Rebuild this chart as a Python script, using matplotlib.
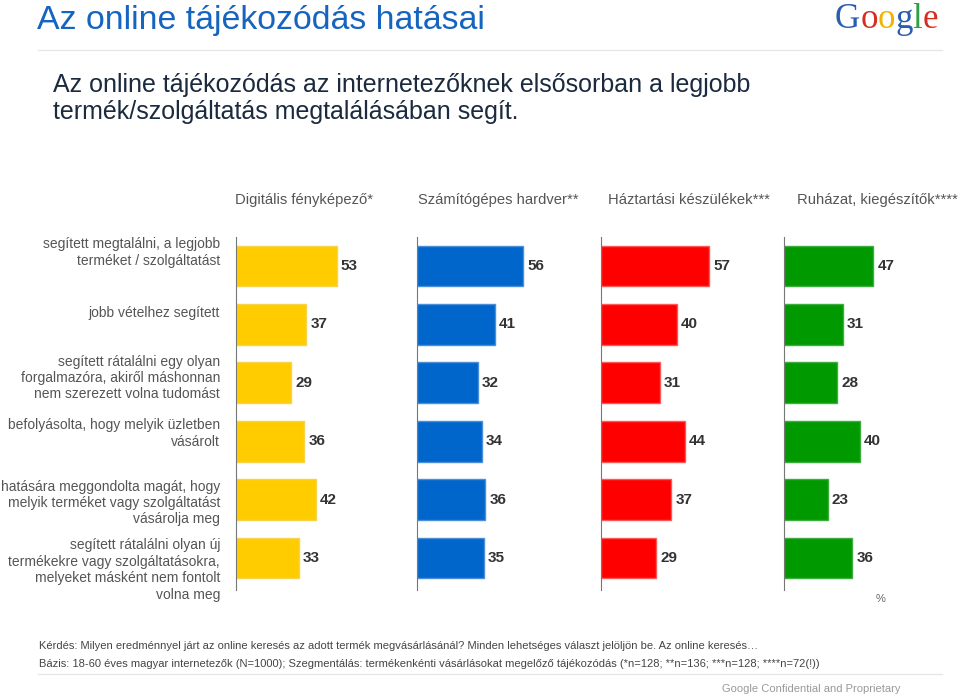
import matplotlib.pyplot as plt

plt.rcParams['font.family'] = ['Liberation Sans', 'DejaVu Sans']

W, H = 959, 697

categories = ["Digitális fényképező*", "Számítógépes hardver**",
              "Háztartási készülékek***", "Ruházat, kiegészítők****"]
row_labels = [
    "segített megtalálni, a legjobb\nterméket / szolgáltatást",
    "jobb vételhez segített",
    "segített rátalálni egy olyan\nforgalmazóra, akiről máshonnan\nnem szerezett volna tudomást",
    "befolyásolta, hogy melyik üzletben\nvásárolt",
    "hatására meggondolta magát, hogy\nmelyik terméket vagy szolgáltatást\nvásárolja meg",
    "segített rátalálni olyan új\ntermékekre vagy szolgáltatásokra,\nmelyeket másként nem fontolt\nvolna meg",
]
camera = [53, 37, 29, 36, 42, 33]
hardware = [56, 41, 32, 34, 36, 35]
household = [57, 40, 31, 44, 37, 29]
clothing = [47, 31, 28, 40, 23, 36]
series = [camera, hardware, household, clothing]
colors = ["#FFCC00", "#0066CC", "#FF0000", "#009900"]
edges = ["#F5D34A", "#4C8FD8", "#FF5A5A", "#3DAE3D"]


def fx(x):
    return x / W


def fy(y):
    return 1 - y / H


fig = plt.figure(figsize=(W / 100, H / 100), dpi=100)
renderer = fig.canvas.get_renderer()

# title + header
fig.text(fx(37), fy(21), "Az online tájékozódás hatásai", fontsize=24.4,
         color="#1565C0", va="center", ha="left")
fig.add_artist(plt.Line2D([fx(38), fx(942)], [fy(50), fy(50)],
                          color="#E6E6E6", lw=1))
fig.text(fx(53), fy(98.5),
         "Az online tájékozódás az internetezőknek elsősorban a legjobb\n"
         "termék/szolgáltatás megtalálásában segít.",
         fontsize=18, color="#1B2A3E", va="center", ha="left", linespacing=1.17)

# google logo, letter by letter
logo_x = 835
for ch, c in zip("Google", ["#2A5DB0", "#D62D20", "#F2B200", "#2A5DB0", "#2F9E44", "#D62D20"]):
    t = fig.text(fx(logo_x), fy(28), ch, fontsize=25, family="Liberation Serif",
                 color=c, va="baseline", ha="left")
    logo_x += t.get_window_extent(renderer).width

panel_x = [236, 417, 601, 784]
header_x = [304, 498, 689, 877]
panel_w = 183
top, bottom = 237, 590
spacing = 58.4
rows = list(range(len(row_labels)))

for k in range(4):
    ax = fig.add_axes([fx(panel_x[k]), fy(bottom), panel_w / W, (bottom - top) / H])
    ax.barh(rows, series[k], height=0.7, color=colors[k], edgecolor=edges[k], linewidth=1)
    ax.set_xlim(0, panel_w / 1.9)
    ax.set_ylim(5 + 32 / spacing, -29 / spacing)
    for s in ["top", "right", "bottom"]:
        ax.spines[s].set_visible(False)
    ax.spines["left"].set_color("#777777")
    ax.set_xticks([])
    ax.set_yticks([])
    ax.patch.set_alpha(0)
    for r, v in zip(rows, series[k]):
        ax.text(v + 2.2, r, str(v), va="center", ha="left", fontsize=11,
                fontweight="bold", color="#333333")
    fig.text(fx(header_x[k]), fy(200), categories[k],
             ha="center", va="center", fontsize=10.6, color="#555555")

label_y = [252.5, 313, 378, 433.5, 503, 570]
for lab, y in zip(row_labels, label_y):
    fig.text(fx(220), fy(y), lab, ha="right", va="center", multialignment="right",
             fontsize=10, color="#555555", linespacing=1.22)

fig.text(fx(881), fy(599), "%", ha="center", va="center", fontsize=8, color="#666666")

fig.text(fx(39), fy(646),
         "Kérdés: Milyen eredménnyel járt az online keresés az adott termék megvásárlásánál? "
         "Minden lehetséges választ jelöljön be. Az online keresés…",
         fontsize=8, color="#444444", va="center", ha="left")
fig.text(fx(39), fy(664),
         "Bázis: 18-60 éves magyar internetezők (N=1000); Szegmentálás: termékenkénti "
         "vásárlásokat megelőző tájékozódás (*n=128; **n=136; ***n=128; ****n=72(!))",
         fontsize=8, color="#444444", va="center", ha="left")
fig.add_artist(plt.Line2D([fx(38), fx(942)], [fy(674), fy(674)],
                          color="#E6E6E6", lw=1))
fig.text(fx(900), fy(689), "Google Confidential and Proprietary", fontsize=8,
         color="#999999", va="center", ha="right")

fig.savefig("out.png", dpi=100)
